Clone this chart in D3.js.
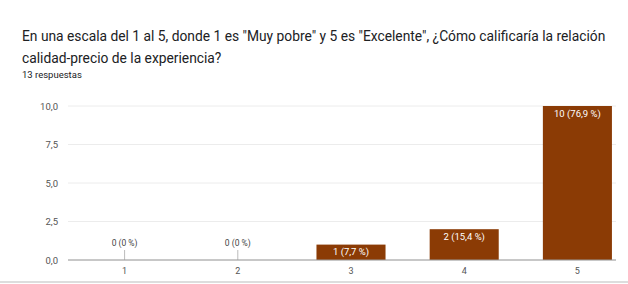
<!DOCTYPE html>
<html>
<head>
<meta charset="utf-8">
<script src="https://cdnjs.cloudflare.com/ajax/libs/d3/7.8.5/d3.min.js"></script>
<style>
  body { margin: 0; background: #fff; }
  svg { display: block; font-family: Roboto, Arial, sans-serif; }
</style>
</head>
<body>
<div id="chart"></div>
<script>
var categories = ["1", "2", "3", "4", "5"];
var counts = [0, 0, 1, 2, 10];
var labels = ["0 (0 %)", "0 (0 %)", "1 (7,7 %)", "2 (15,4 %)", "10 (76,9 %)"];
var yTicks = [0, 2.5, 5, 7.5, 10];

var W = 628, H = 284;
var margin = {top: 106, right: -6, bottom: 24, left: 68},
    width = W - margin.left - margin.right,
    height = H - margin.top - margin.bottom;

const svg = d3.select("#chart").append("svg")
    .attr("width", W)
    .attr("height", H);

svg.append("text")
    .attr("x", 22).attr("y", 41)
    .attr("font-size", 13.8).attr("fill", "#202124")
    .text("En una escala del 1 al 5, donde 1 es \"Muy pobre\" y 5 es \"Excelente\", ¿Cómo calificaría la relación");
svg.append("text")
    .attr("x", 22).attr("y", 63)
    .attr("font-size", 13.8).attr("fill", "#202124")
    .text("calidad-precio de la experiencia?");
svg.append("text")
    .attr("x", 22).attr("y", 78)
    .attr("font-size", 9.5).attr("fill", "#202124")
    .text("13 respuestas");

const g = svg.append("g")
    .attr("transform", "translate(" + margin.left + "," + margin.top + ")");

var x = d3.scaleBand()
    .domain(categories)
    .range([0, width])
    .paddingInner(0.39)
    .paddingOuter(0.195);

var y = d3.scaleLinear()
    .domain([0, 10])
    .range([height, 0]);

// grid
g.selectAll(".grid")
    .data(yTicks)
    .enter().append("line")
    .attr("x1", 0).attr("x2", 548)
    .attr("y1", d => y(d)).attr("y2", d => y(d))
    .attr("stroke", "#ececec");

g.selectAll(".ylab")
    .data(yTicks)
    .enter().append("text")
    .attr("x", -10).attr("y", d => y(d) + 3.5)
    .attr("text-anchor", "end")
    .attr("font-size", 9.5).attr("fill", "#555")
    .text(d => d3.format(".1f")(d).replace(".", ","));

// bars
g.selectAll(".bar")
    .data(counts)
    .enter().append("rect")
    .attr("x", (d, i) => x(categories[i]))
    .attr("y", d => y(d))
    .attr("width", x.bandwidth())
    .attr("height", d => height - y(d))
    .attr("fill", "#8b3b05");

// zero stubs
g.selectAll(".stub")
    .data(counts.map((d, i) => [d, i]).filter(d => d[0] === 0))
    .enter().append("line")
    .attr("x1", d => x(categories[d[1]]) + x.bandwidth() / 2)
    .attr("x2", d => x(categories[d[1]]) + x.bandwidth() / 2)
    .attr("y1", height).attr("y2", height - 10)
    .attr("stroke", "#bbb");

g.selectAll(".blab")
    .data(counts)
    .enter().append("text")
    .attr("x", (d, i) => x(categories[i]) + x.bandwidth() / 2)
    .attr("y", d => d === 0 ? height - 14 : y(d) + 10.5)
    .attr("text-anchor", "middle")
    .attr("font-size", d => d === 0 ? 8.5 : 9.5)
    .attr("fill", d => d === 0 ? "#444" : "#fff")
    .text((d, i) => labels[i]);

// baseline
g.append("line")
    .attr("x1", 0).attr("x2", 548)
    .attr("y1", height).attr("y2", height)
    .attr("stroke", "#999").attr("stroke-width", 1.2);

g.selectAll(".xlab")
    .data(categories)
    .enter().append("text")
    .attr("x", d => x(d) + x.bandwidth() / 2)
    .attr("y", height + 14)
    .attr("text-anchor", "middle")
    .attr("font-size", 9).attr("fill", "#555")
    .text(d => d);

svg.append("line")
    .attr("x1", 0).attr("x2", W)
    .attr("y1", 282).attr("y2", 282)
    .attr("stroke", "#ddd").attr("stroke-width", 2);
</script>
</body>
</html>
